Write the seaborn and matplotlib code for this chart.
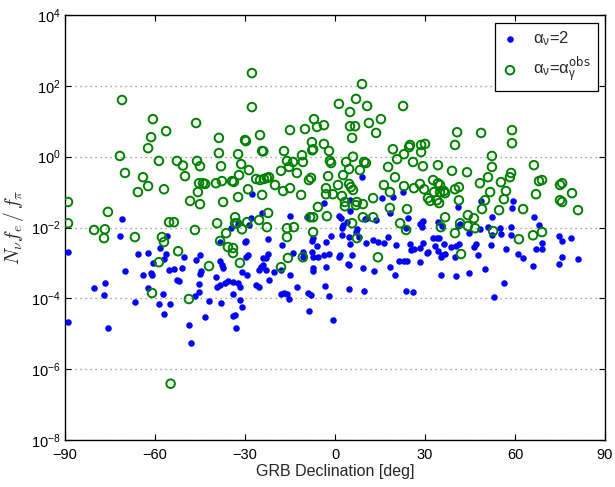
import numpy as np
import pandas as pd
import matplotlib
matplotlib.use('Agg')
import matplotlib.pyplot as plt
import seaborn as sns
from matplotlib.ticker import NullLocator

# GRB declination [deg] and log10(N_nu f_e / f_pi)
# alpha_nu = 2 (blue dots)
dec_alpha2 = [
    -71.0, -71.7, -88.9, -65.7, -62.3, -56.1, -58.4, -56.3, -56.9, -60.7,
    -70.0, -64.1, -61.4, -61.1, -55.2, -53.7, -50.9, -50.2, -52.8, -52.1,
    -62.2, -57.4, -66.7, -58.6, -54.9, -57.0, -80.3, -76.7, -77.0, -88.9,
    -75.8, -48.8, -43.3, -41.9, -37.9, -31.8, -31.1, -33.9, -33.3, -46.7,
    -45.2, -45.4, -45.0, -44.6, -46.3, -45.0, -39.7, -39.4, -38.2, -36.7,
    -35.6, -33.9, -32.2, -34.1, -38.3, -38.4, -37.8, -37.2, -30.0, -31.1,
    -34.8, -32.4, -32.9, -48.0,
    -27.7, -24.3, -15.0, -9.3, -3.7, 1.3, -28.0, -28.6,
    5.0, 3.9, 2.8, 2.2, 7.2, 7.0, 10.6, 13.7, 15.6, 19.4, 24.4, 28.3,
    -29.7, -22.4, -17.6, -7.4, -7.7, -5.9, -3.0, -1.4, 2.4, 4.8, 5.0, 7.9,
    10.3, 12.6, 14.4, 16.4, 17.7, 20.3, 23.6, 25.0, 26.3, 28.3,
    -29.7, -28.9, -23.9, -23.1, -22.2, -24.8, -24.1, -25.2, -23.1, -20.2,
    -17.9, -15.0, -22.0, -29.4, -26.3, -25.2, -31.7, -13.9, -10.8, -10.6,
    -7.8, -7.4, -5.7, -7.4, -7.2, -3.6, -2.0, -3.0, 1.3, 1.7, 4.2, 4.7,
    5.6, 9.4, 13.0, 18.3, 20.0, 21.4, 23.0, 23.9, 25.2, 28.3,
    -12.6, -3.2, -1.9, 4.8, 9.7, 23.7, 25.9, -18.1, -17.0, -16.1, -15.3,
    -8.9, -8.0, -8.6, -0.8,
    8.9, 22.8, 5.0, 2.0, 18.3, 10.1,
    48.6, 59.2, 58.9, 40.9, 52.4, 66.4, 68.0, 28.9, 29.4, 29.1, 34.2, 35.6,
    41.1, 41.7, 44.7, 48.3, 51.1, 55.0, 55.2, 58.6, 58.6, 52.4, 32.8, 33.9,
    34.7, 29.4, 33.3, 34.4, 31.1, 30.6, 36.3, 35.6, 36.7, 35.3, 38.7, 40.2,
    41.4, 40.0, 46.4, 46.9, 47.8, 52.0, 57.0, 61.1, 62.6, 66.1, 67.0, 69.1,
    69.1, 74.8, 75.8, 78.7, 75.8, 74.8, 81.1, 35.3, 40.3, 44.6, 50.1, 56.3,
    52.9,
]
logf_alpha2 = [
    -1.75, -2.25, -2.70, -2.74, -2.72, -2.24, -2.59, -2.76, -2.89, -3.00,
    -3.24, -3.34, -3.28, -3.35, -3.19, -3.17, -3.15, -2.84, -3.49, -3.52,
    -3.70, -3.88, -4.10, -4.17, -4.15, -4.43, -3.71, -3.56, -3.91, -4.66,
    -4.85, -4.76, -4.53, -4.08, -4.13, -4.04, -4.24, -4.50, -4.47, -3.94,
    -3.83, -3.59, -3.32, -3.24, -2.92, -2.78, -3.41, -3.69, -3.63, -3.57,
    -3.51, -3.55, -3.58, -3.87, -2.40, -2.94, -3.06, -3.14, -2.40, -3.25,
    -2.00, -1.89, -4.85, -5.25,
    -1.06, -1.59, -1.68, -1.71, -1.31, -1.68, -1.74, -1.93,
    -1.53, -1.84, -1.93, -2.00, -2.03, -2.12, -1.74, -1.79, -1.18, -1.13,
    -1.72, -1.90,
    -2.38, -2.33, -2.49, -2.31, -2.37, -2.53, -2.40, -2.24, -2.21, -2.26,
    -2.47, -2.26, -2.43, -2.35, -2.42, -2.43, -2.28, -2.48, -2.01, -2.47,
    -2.61, -2.57,
    -2.83, -2.78, -2.87, -2.86, -2.76, -3.11, -3.06, -3.20, -3.20, -3.25,
    -3.20, -3.33, -3.47, -3.33, -3.61, -3.67, -3.67, -2.73, -2.69, -2.83,
    -2.70, -2.83, -2.83, -3.14, -3.22, -2.78, -2.75, -3.12, -2.83, -2.78,
    -3.02, -3.06, -2.78, -3.13, -3.23, -3.11, -3.34, -2.94, -2.94, -2.94,
    -2.64, -2.97,
    -3.69, -3.66, -3.94, -3.75, -3.79, -3.80, -3.82, -3.89, -3.84, -3.88,
    -4.02, -3.86, -3.91, -4.36, -4.60,
    -0.57, -0.99, -1.23, -1.72, -1.58, -1.77,
    -1.25, -1.25, -1.46, -1.41, -1.71, -1.71, -1.93, -1.84, -1.81, -1.98,
    -1.84, -1.95, -1.96, -1.90, -2.15, -2.03, -1.98, -2.01, -2.17, -1.98,
    -2.21, -2.21, -2.31, -2.31, -2.31, -2.45, -2.53, -2.67, -2.69, -2.73,
    -2.47, -2.78, -2.76, -2.83, -2.56, -2.53, -2.47, -2.83, -2.55, -2.47,
    -2.78, -2.48, -2.61, -2.76, -2.87, -3.09, -2.62, -2.45, -2.62, -2.23,
    -2.38, -2.29, -2.83, -3.03, -2.89, -3.34, -3.36, -3.29, -3.16, -3.58,
    -3.96,
]

# alpha_nu = alpha_gamma^obs (green open circles)
dec_obs = [
    -27.7, -27.7, -71.0, -60.7, -56.3, -61.3, -46.3, -62.3, -71.7, -70.0,
    -58.7, -52.7, -50.7, -64.0, -62.3, -65.7, -57.0, -50.0, -46.0, -45.0,
    -45.3, -44.0, -43.3, -45.7, -48.3, -45.0, -38.7, -38.7, -38.0, -39.7,
    -37.7, -34.3, -33.7, -37.3, -32.3, -31.3, -32.0, -28.7, -29.0, -32.3,
    -30.0, -29.7, -25.0, -24.3, -23.9, -26.3, -25.0, -23.7, -22.7, -22.0,
    -24.3, -20.0, -17.3, -15.0, -11.3, -18.0, -17.0, -16.0, -15.3, -14.0,
    -12.7, -15.0, -11.0, -10.7, -10.0, -7.0, -6.0, -3.7, -7.7, -7.3,
    -7.6, -3.7, -2.0, -1.7, -1.3, -2.3, -8.7, -8.0, -3.0, -3.0,
    -0.7, -5.7, 1.3, -8.3, -7.3, -2.7, -7.3, -16.0, -13.7, -16.0,
    -22.7, -22.3, -25.3, -31.0, -33.3, -33.3, -32.7, -36.3, -39.3, -38.3,
    -35.7, -34.0, -34.0, -46.7, -52.3, -55.3, -53.7, -57.7, -57.0, -66.7,
    -75.7, -80.3, -76.7, -77.0, -89.0, -89.0, -58.7, -42.0, -61.0, -48.7,
    -31.7, -15.7, -18.0, -10.7, -29.3, -54.8,
    9.0, 7.0, 10.7, 5.0, 22.7, 15.3, 11.3, 5.0, 6.7, 13.7,
    5.7, 40.7, 48.7, 59.0, 59.0, 40.0, 25.0, 24.7, 28.7, 30.0,
    28.7, 19.3, 23.0, 6.0, 52.3, 3.7, 9.7, 10.3, 20.7, 26.0,
    29.3, 34.3, 17.7, 52.3, 66.3, 4.7, 8.3, 39.0, 44.0, 2.7,
    58.7, 58.3, 20.0, 51.0, 68.0, 69.0, 55.3, 48.3, 32.7, 28.3,
    23.0, 16.3, 1.0, 4.7, 5.3, 6.0, 34.3, 35.0, 26.3, 29.7,
    18.3, 33.0, 35.0, 36.3, 36.7, 40.0, 41.3, 51.7, 57.0, 75.0,
    75.7, 79.0, 67.0, 2.3, 3.3, 3.3, 7.3, 7.0, 9.3, 12.7,
    31.0, 31.7, 34.0, 34.7, 41.3, 50.0, 56.3, 75.0, 75.7, 81.0,
    62.7, 54.7, 49.0, 41.7, 44.3, 46.3, 44.3, 46.7, 24.0, 18.3,
    36.7, 9.3, 12.7, 5.7, 21.7, 23.7, 35.3, 40.0, 52.7, 66.0,
    69.0, 61.3, 7.3, 14.3, 42.0,
]
logf_obs = [
    2.36, 1.40, 1.60, 1.06, 0.72, 0.55, 0.95, 0.24, 0.02, -0.46,
    -0.12, -0.12, -0.25, -0.58, -0.83, -1.00, -0.92, -0.55, -0.12, -0.27,
    -0.75, -0.75, -0.77, -1.00, -1.25, -1.34, 0.53, 0.10, -0.27, -0.75,
    -0.69, -0.69, -0.71, -1.28, 0.07, -0.21, -0.52, -0.38, -0.92, -1.14,
    0.47, 0.44, 0.61, 0.16, 0.15, -0.63, -0.66, -0.63, -0.60, -0.58,
    -1.08, -0.80, -0.97, -0.89, -1.08, -0.40, 0.16, -0.12, -0.29, -0.15,
    -0.46, 0.75, 0.04, -0.15, 0.78, 1.06, 0.84, 0.89, 0.41, 0.21,
    0.18, 0.36, 0.16, -0.12, -0.18, -0.55, -0.66, -0.60, -0.89, -1.06,
    -1.06, -1.42, 1.49, -1.71, -1.71, -1.68, -2.13, -2.02, -1.99, -2.27,
    -1.99, -1.59, -1.79, -2.05, -1.71, -1.88, -1.88, -2.16, -1.88, -2.38,
    -2.55, -2.58, -2.72, -2.07, -2.67, -1.85, -1.85, -2.27, -2.41, -2.27,
    -1.56, -2.07, -2.05, -2.30, -1.28, -1.88, -2.98, -3.09, -3.85, -4.02,
    -3.00, -2.86, -3.12, -2.84, -1.85, -6.41,
    2.05, 1.63, 1.43, 1.26, 1.43, 1.06, 0.95, 0.86, 0.86, 0.67,
    0.53, 0.69, 0.67, 0.75, 0.38, 0.33, 0.33, 0.27, 0.33, 0.36,
    0.13, 0.21, 0.07, 0.00, 0.02, -0.15, -0.15, -0.18, -0.07, -0.15,
    -0.27, -0.24, -0.29, -0.29, -0.24, -0.35, -0.38, -0.40, -0.44, -0.52,
    -0.46, -0.58, -0.58, -0.58, -0.69, -0.66, -0.72, -0.75, -0.66, -0.77,
    -0.83, -0.80, -0.80, -0.77, -0.86, -0.94, -0.75, -0.80, -0.89, -0.92,
    -1.00, -1.00, -1.00, -0.97, -1.03, -0.92, -0.86, -1.00, -0.97, -0.80,
    -0.75, -1.03, -1.06, -1.11, -1.28, -1.40, -1.28, -1.37, -1.34, -1.17,
    -1.17, -1.25, -1.23, -1.31, -1.23, -1.23, -1.20, -1.23, -1.28, -1.51,
    -1.48, -1.51, -1.48, -1.88, -1.65, -1.74, -1.96, -2.02, -1.48, -1.45,
    -1.71, -1.71, -1.71, -1.88, -1.88, -2.07, -1.99, -2.16, -2.10, -2.22,
    -2.13, -2.33, -2.30, -2.84, -2.75,
]

label_alpha2 = r'$\alpha_\nu$=2'
label_obs = r'$\alpha_\nu$=$\alpha_\gamma^{\rm obs}$'
xticks = [-90, -60, -30, 0, 30, 60, 90]
yticks = [1e-8, 1e-6, 1e-4, 1e-2, 1e0, 1e2, 1e4]

df2 = pd.DataFrame({'dec': dec_alpha2, 'flux': 10.0 ** np.array(logf_alpha2)})
dfo = pd.DataFrame({'dec': dec_obs, 'flux': 10.0 ** np.array(logf_obs)})

sns.set_style('ticks')
plt.rcParams['font.family'] = ['Liberation Sans', 'DejaVu Sans']
plt.rcParams['mathtext.default'] = 'regular'
plt.rcParams['mathtext.fontset'] = 'dejavusans'

fig = plt.figure(figsize=(6.15, 4.87), dpi=100)
ax = fig.add_axes([65 / 615, 1 - 440 / 487, 540 / 615, 425 / 487])

sns.scatterplot(data=df2, x='dec', y='flux', ax=ax, color='#0000ff',
                s=22, linewidth=0, label=label_alpha2, zorder=3)
sns.scatterplot(data=dfo, x='dec', y='flux', ax=ax, facecolor='none',
                edgecolor='#008000', s=38, linewidth=1.4, label=label_obs,
                zorder=3)

ax.set_yscale('log')
ax.set_xlim(-90, 90)
ax.set_ylim(1e-8, 1e4)
ax.set_xticks(xticks)
ax.set_xticklabels(['\u2212' + str(-t) if t < 0 else str(t) for t in xticks])
ax.set_yticks(yticks)
ax.yaxis.set_minor_locator(NullLocator())

ax.grid(axis='y', which='major', linestyle=(0, (1, 3)), color='#888888',
        linewidth=0.9)
ax.grid(axis='x', visible=False)
ax.tick_params(direction='in', top=True, right=True, length=4, width=0.8,
               labelsize=10.5, colors='black')
ax.tick_params(axis='x', pad=6)
ax.tick_params(axis='y', pad=3)
for sp in ax.spines.values():
    sp.set_linewidth(1.0)
    sp.set_color('black')

ax.set_xlabel('GRB Declination [deg]', fontsize=11.5, labelpad=1)
ax.set_ylabel(r'$\mathit{N_\nu f_e\,/\,f_\pi}$', fontsize=14, labelpad=4,
              math_fontfamily='cm')

leg = ax.legend(loc='upper right', frameon=True, fancybox=False,
                edgecolor='black', framealpha=1, fontsize=12,
                borderaxespad=0.45, handlelength=1.0, handletextpad=0.9,
                labelspacing=0.45, borderpad=0.4)
leg.get_frame().set_linewidth(0.9)

fig.savefig('out.png', dpi=100)
